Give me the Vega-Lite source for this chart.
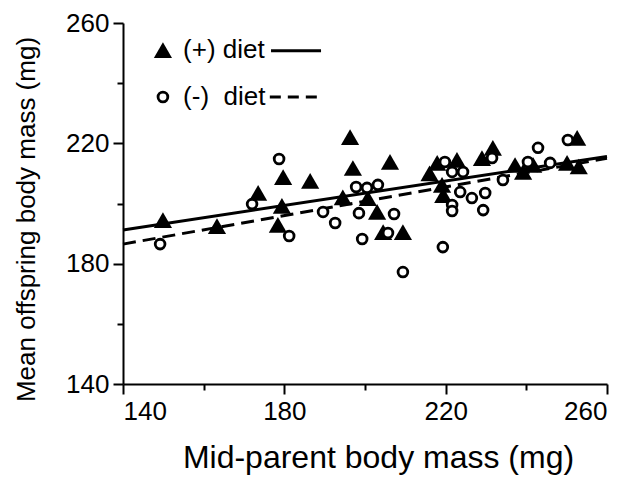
{
  "$schema": "https://vega.github.io/schema/vega-lite/v6.json",
  "width": 484,
  "height": 361,
  "autosize": {"type": "none"},
  "padding": {"left": 123, "top": 23, "right": 21, "bottom": 97},
  "background": "white",
  "config": {
    "view": {"stroke": null},
    "font": "Liberation Sans",
    "axis": {
      "grid": false,
      "domainColor": "black",
      "domainWidth": 2,
      "tickColor": "black",
      "tickWidth": 2,
      "labelColor": "black",
      "titleColor": "black",
      "labelFont": "Liberation Sans",
      "titleFont": "Liberation Sans",
      "titleFontWeight": "normal",
      "labelFontSize": 26,
      "labelPadding": 4
    }
  },
  "datasets": {
    "plus": [
      {"x": 149.9, "y": 194.5}, {"x": 163.3, "y": 192.5}, {"x": 173.5, "y": 203.5},
      {"x": 179.7, "y": 208.8}, {"x": 179.4, "y": 199.2}, {"x": 178.4, "y": 192.9},
      {"x": 186.4, "y": 207.5}, {"x": 196.3, "y": 222.1}, {"x": 197.0, "y": 211.8},
      {"x": 206.2, "y": 213.8}, {"x": 194.5, "y": 202.0}, {"x": 200.7, "y": 201.8},
      {"x": 203.0, "y": 197.2}, {"x": 204.5, "y": 190.5}, {"x": 209.4, "y": 190.5},
      {"x": 216.0, "y": 210.0}, {"x": 217.9, "y": 213.5}, {"x": 222.8, "y": 214.5},
      {"x": 229.0, "y": 215.1}, {"x": 231.7, "y": 218.5}, {"x": 219.1, "y": 206.2},
      {"x": 219.4, "y": 202.8}, {"x": 237.2, "y": 212.8}, {"x": 239.2, "y": 210.5},
      {"x": 241.7, "y": 212.8}, {"x": 250.1, "y": 213.5}, {"x": 253.0, "y": 212.3},
      {"x": 252.6, "y": 221.8}
    ],
    "minus": [
      {"x": 149.2, "y": 186.5}, {"x": 172.0, "y": 199.8}, {"x": 178.7, "y": 214.8},
      {"x": 181.2, "y": 189.2}, {"x": 189.6, "y": 197.2}, {"x": 192.6, "y": 193.5},
      {"x": 197.8, "y": 205.5}, {"x": 200.5, "y": 205.2}, {"x": 203.2, "y": 206.2},
      {"x": 198.5, "y": 196.8}, {"x": 207.2, "y": 196.5}, {"x": 199.3, "y": 188.2},
      {"x": 205.7, "y": 190.2}, {"x": 209.4, "y": 177.2}, {"x": 219.3, "y": 185.5},
      {"x": 219.8, "y": 213.8}, {"x": 221.6, "y": 210.5}, {"x": 224.3, "y": 210.5},
      {"x": 223.6, "y": 203.8}, {"x": 226.5, "y": 201.8}, {"x": 229.8, "y": 203.5},
      {"x": 229.3, "y": 197.8}, {"x": 221.6, "y": 199.5}, {"x": 221.6, "y": 197.5},
      {"x": 231.5, "y": 215.1}, {"x": 234.2, "y": 207.8}, {"x": 242.9, "y": 218.5},
      {"x": 250.3, "y": 221.1}, {"x": 240.4, "y": 213.8}, {"x": 245.9, "y": 213.5}
    ],
    "fitPlus": [{"x": 140, "y": 191.2}, {"x": 260, "y": 215.6}],
    "fitMinus": [{"x": 140, "y": 186.5}, {"x": 260, "y": 215.0}],
    "legendText": [
      {"x": 154.9, "y": 251.0, "label": "(+) diet"},
      {"x": 154.9, "y": 235.4, "label": "(-)\u00a0 diet"}
    ],
    "legendPlusSym": [{"x": 149.9, "y": 251.0}],
    "legendMinusSym": [{"x": 149.9, "y": 235.4}],
    "legendPlusLine": [{"x": 176.7, "y": 250.8}, {"x": 189.1, "y": 250.8}],
    "legendMinusLine": [{"x": 176.4, "y": 235.4}, {"x": 188.4, "y": 235.4}]
  },
  "encoding": {
    "x": {
      "field": "x", "type": "quantitative",
      "scale": {"domain": [140, 260], "nice": false, "zero": false},
      "axis": {
        "title": "Mid-parent body mass (mg)",
        "titleFontSize": 32,
        "titlePadding": 18,
        "titleX": 255,
        "values": [140, 160, 180, 200, 220, 240, 260],
        "labelExpr": "datum.value % 40 == 20 ? datum.label : ''",
        "tickSize": {"condition": {"test": "datum.value % 40 == 20", "value": 10}, "value": 6}
      }
    },
    "y": {
      "field": "y", "type": "quantitative",
      "scale": {"domain": [140, 260], "nice": false, "zero": false},
      "axis": {
        "title": "Mean offspring body mass (mg)",
        "titleFontSize": 26,
        "titlePadding": 26,
        "titleY": 196,
        "values": [140, 160, 180, 200, 220, 240, 260],
        "labelExpr": "datum.value % 40 == 20 ? datum.label : ''",
        "tickSize": {"condition": {"test": "datum.value % 40 == 20", "value": 10}, "value": 6}
      }
    }
  },
  "layer": [
    {
      "data": {"name": "plus"},
      "mark": {"type": "point", "shape": "triangle-up", "filled": true, "color": "black", "size": 330, "opacity": 1}
    },
    {
      "data": {"name": "fitPlus"},
      "mark": {"type": "line", "color": "black", "strokeWidth": 3}
    },
    {
      "data": {"name": "fitMinus"},
      "mark": {"type": "line", "color": "black", "strokeWidth": 3, "strokeDash": [13, 7]}
    },
    {
      "data": {"name": "minus"},
      "mark": {"type": "point", "shape": "circle", "filled": true, "fill": "white", "stroke": "black", "strokeWidth": 2.8, "size": 95, "opacity": 1}
    },
    {
      "data": {"name": "legendPlusSym"},
      "mark": {"type": "point", "shape": "triangle-up", "filled": true, "color": "black", "size": 330, "opacity": 1}
    },
    {
      "data": {"name": "legendMinusSym"},
      "mark": {"type": "point", "shape": "circle", "filled": true, "fill": "white", "stroke": "black", "strokeWidth": 2.8, "size": 95, "opacity": 1}
    },
    {
      "data": {"name": "legendText"},
      "mark": {"type": "text", "align": "left", "baseline": "middle", "fontSize": 26, "color": "black", "font": "Liberation Sans"},
      "encoding": {"text": {"field": "label"}}
    },
    {
      "data": {"name": "legendPlusLine"},
      "mark": {"type": "line", "color": "black", "strokeWidth": 3}
    },
    {
      "data": {"name": "legendMinusLine"},
      "mark": {"type": "line", "color": "black", "strokeWidth": 3, "strokeDash": [11, 7]}
    }
  ]
}
